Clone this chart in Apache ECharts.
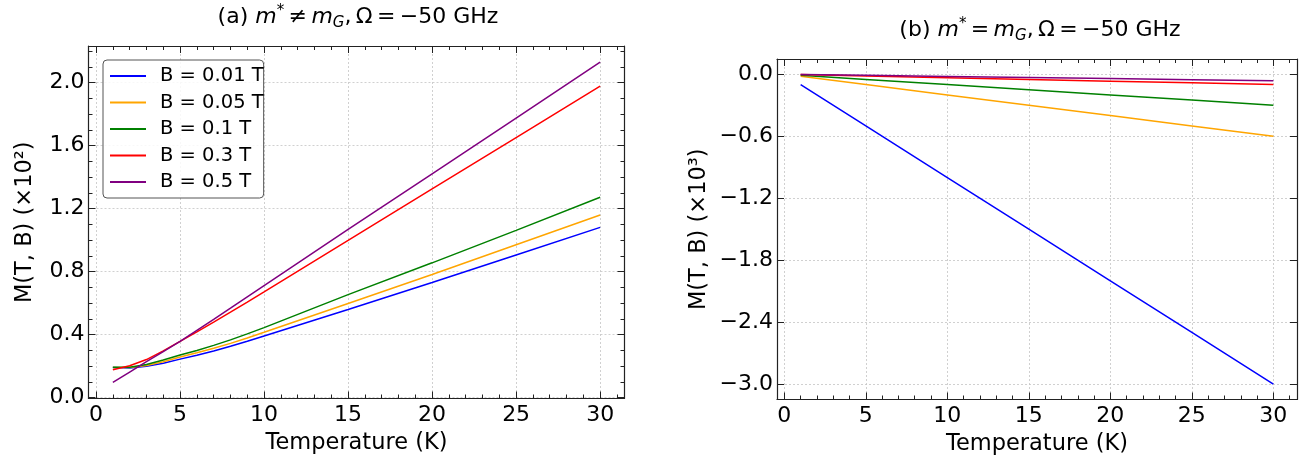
<!DOCTYPE html>
<html><head><meta charset="utf-8">
<script src="https://cdn.jsdelivr.net/npm/echarts@6/dist/echarts.min.js"></script>
<style>html,body{margin:0;padding:0;background:#fff}#c{width:1313px;height:468px}</style>
</head><body><div id="c"></div>
<script>
// ---------- data ----------
const seriesNames = ['B = 0.01 T', 'B = 0.05 T', 'B = 0.1 T', 'B = 0.3 T', 'B = 0.5 T'];
const colors = ['#0000ff', '#ffa500', '#008000', '#ff0000', '#800080'];

// panel (a): M (x10^2) vs T
const tempsA = [1, 2, 3, 4, 5, 6, 7, 8, 9, 10, 15, 20, 25, 30];
const a_B001 = [0.191, 0.189, 0.200, 0.219, 0.245, 0.270, 0.297, 0.326, 0.358, 0.392, 0.560, 0.731, 0.906, 1.081];
const a_B005 = [0.192, 0.191, 0.205, 0.228, 0.258, 0.285, 0.314, 0.345, 0.379, 0.415, 0.598, 0.782, 0.971, 1.160];
const a_B01  = [0.193, 0.193, 0.211, 0.239, 0.271, 0.300, 0.332, 0.367, 0.405, 0.445, 0.654, 0.856, 1.062, 1.272];
const a_B03  = [0.178, 0.203, 0.242, 0.297, 0.357, 0.418, 0.480, 0.543, 0.607, 0.672, 0.998, 1.325, 1.650, 1.977];
const a_B05  = [0.097, 0.163, 0.229, 0.293, 0.357, 0.427, 0.497, 0.568, 0.640, 0.712, 1.068, 1.420, 1.775, 2.129];

// panel (b): M (x10^3) vs T
const tempsB = [1, 5, 10, 15, 20, 25, 30];
const b_B001 = [-0.100, -0.500, -1.000, -1.500, -2.000, -2.500, -3.000];
const b_B005 = [-0.020, -0.100, -0.200, -0.300, -0.400, -0.500, -0.600];
const b_B01  = [-0.010, -0.050, -0.100, -0.150, -0.200, -0.250, -0.300];
const b_B03  = [-0.003, -0.017, -0.033, -0.050, -0.067, -0.083, -0.100];
const b_B05  = [-0.002, -0.010, -0.021, -0.031, -0.042, -0.052, -0.062];

// tick labels
const xTicks = [0, 5, 10, 15, 20, 25, 30];
const yTicksA = [0.0, 0.4, 0.8, 1.2, 1.6, 2.0];
const yTicksB = [0.0, -0.6, -1.2, -1.8, -2.4, -3.0];

// ---------- build ----------
const FONT = 'DejaVu Sans';
const AX = '#222';
function pairs(xs, ys) { return xs.map((x, i) => [x, ys[i]]); }
function minorVals(majors, ndiv, min, max) {
  const step = (majors[1] - majors[0]) / ndiv;
  const out = [];
  const k0 = Math.ceil((min - majors[0]) / step - 1e-9);
  const k1 = Math.floor((max - majors[0]) / step + 1e-9);
  for (let k = k0; k <= k1; k++) {
    if (((k % ndiv) + ndiv) % ndiv !== 0) out.push(+(majors[0] + k * step).toFixed(6));
  }
  return out;
}
const fmt1 = v => (v < 0 ? '\u2212' : '') + Math.abs(v).toFixed(1);
const gridLine = { show: true, lineStyle: { color: '#c4c4c4', type: [2, 2], width: 0.8 } };

function axisSet(dim, gi, min, max, ticks, ndiv, opts) {
  const pos = dim === 'x' ? ['bottom', 'top'] : ['left', 'right'];
  const mins = minorVals(ticks, ndiv, min, max);
  const res = [];
  pos.forEach((p, pi) => {
    const main = pi === 0;
    res.push(Object.assign({
      type: 'value', gridIndex: gi, min: min, max: max, position: p,
      axisLine: { show: true, onZero: false, lineStyle: { color: AX, width: 1.2 } },
      axisTick: { show: true, inside: true, length: 7, customValues: ticks, lineStyle: { color: AX, width: 1 } },
      axisLabel: main ? Object.assign({ show: true, customValues: ticks, fontFamily: FONT, fontSize: 22, color: '#000' }, opts.label) : { show: false },
      splitLine: main ? gridLine : { show: false },
      minorTick: { show: false }
    }, main ? opts.name : {}));
    res.push({
      type: 'value', gridIndex: gi, min: min, max: max, position: p,
      axisLine: { show: false, onZero: false },
      axisTick: { show: true, inside: true, length: 4, customValues: mins, lineStyle: { color: AX, width: 1 } },
      axisLabel: { show: false },
      splitLine: { show: false }
    });
  });
  return res;
}

const nameStyle = { fontFamily: FONT, fontSize: 22.5, color: '#000' };
const xAxes = [].concat(
  axisSet('x', 0, -0.45, 31.45, xTicks, 5, {
    label: { margin: 6, formatter: v => String(v) },
    name: { name: 'Temperature (K)', nameLocation: 'middle', nameGap: 32, nameTextStyle: nameStyle }
  }),
  axisSet('x', 1, -0.45, 31.45, xTicks, 5, {
    label: { margin: 6, formatter: v => String(v) },
    name: { name: 'Temperature (K)', nameLocation: 'middle', nameGap: 32, nameTextStyle: nameStyle }
  })
);
const yAxes = [].concat(
  axisSet('y', 0, -0.005, 2.232, yTicksA, 4, {
    label: { margin: 4, formatter: fmt1 },
    name: { name: 'M(T, B) (\u00d710\u00b2)', nameLocation: 'middle', nameGap: 52, nameTextStyle: nameStyle }
  }),
  axisSet('y', 1, -3.15, 0.148, yTicksB, 4, {
    label: { margin: 4, formatter: fmt1 },
    name: { name: 'M(T, B) (\u00d710\u00b3)', nameLocation: 'middle', nameGap: 66, nameTextStyle: nameStyle }
  })
);

const dataA = [a_B001, a_B005, a_B01, a_B03, a_B05];
const dataB = [b_B001, b_B005, b_B01, b_B03, b_B05];
const series = [];
dataA.forEach((d, i) => series.push({
  name: seriesNames[i], type: 'line', xAxisIndex: 0, yAxisIndex: 0, data: pairs(tempsA, d),
  symbol: 'none', smooth: false, color: colors[i], lineStyle: { width: 1.5, color: colors[i] }, z: 3 + i
}));
dataB.forEach((d, i) => series.push({
  name: seriesNames[i], type: 'line', xAxisIndex: 4, yAxisIndex: 4, data: pairs(tempsB, d),
  symbol: 'none', color: colors[i], lineStyle: { width: 1.5, color: colors[i] }, z: 3 + i
}));

const base = { fontFamily: FONT, color: '#000', fontWeight: 'normal', lineHeight: 28 };
const richT = {
  n: Object.assign({ fontSize: 22, verticalAlign: 'middle' }, base),
  i: Object.assign({ fontSize: 22, fontStyle: 'italic', verticalAlign: 'middle' }, base),
  sup: Object.assign({ fontSize: 15, verticalAlign: 'top', padding: [1, 0, 0, 0] }, base),
  sub: Object.assign({ fontSize: 15, fontStyle: 'italic', verticalAlign: 'bottom' }, base)
};
const th = '\u2009';

const chart = echarts.init(document.getElementById('c'), null, { renderer: 'canvas' });
chart.setOption({
  animation: false,
  backgroundColor: '#fff',
  title: [
    { text: '{n|(a) }{i|m}{sup|*}{n|' + th + '\u2260' + th + '}{i|m}{sub|G}{n|,' + th + '\u03a9' + th + '=' + th + '\u221250 GHz}',
      left: 358, top: 3, padding: 0, textAlign: 'center', textStyle: { fontWeight: 'normal', rich: richT } },
    { text: '{n|(b) }{i|m}{sup|*}{n|' + th + '=' + th + '}{i|m}{sub|G}{n|,' + th + '\u03a9' + th + '=' + th + '\u221250 GHz}',
      left: 1040, top: 16, padding: 0, textAlign: 'center', textStyle: { fontWeight: 'normal', rich: richT } }
  ],
  grid: [
    { left: 88.5, right: 1313 - 624.5, top: 46, bottom: 468 - 398.5, containLabel: false },
    { left: 777, right: 1313 - 1297, top: 59, bottom: 468 - 399.5, containLabel: false }
  ],
  legend: {
    data: seriesNames, orient: 'vertical', left: 103, top: 60,
    icon: 'rect', itemWidth: 36, itemHeight: 2, itemGap: 6.5,
    padding: [6, 0, 6, 7],
    backgroundColor: 'rgba(255,255,255,0.85)', borderColor: '#555', borderWidth: 1, borderRadius: 4,
    textStyle: { fontFamily: FONT, fontSize: 19.5, color: '#000', lineHeight: 20, padding: [0, 0, 0, 9] }
  },
  xAxis: xAxes,
  yAxis: yAxes,
  series: series
});
</script></body></html>
